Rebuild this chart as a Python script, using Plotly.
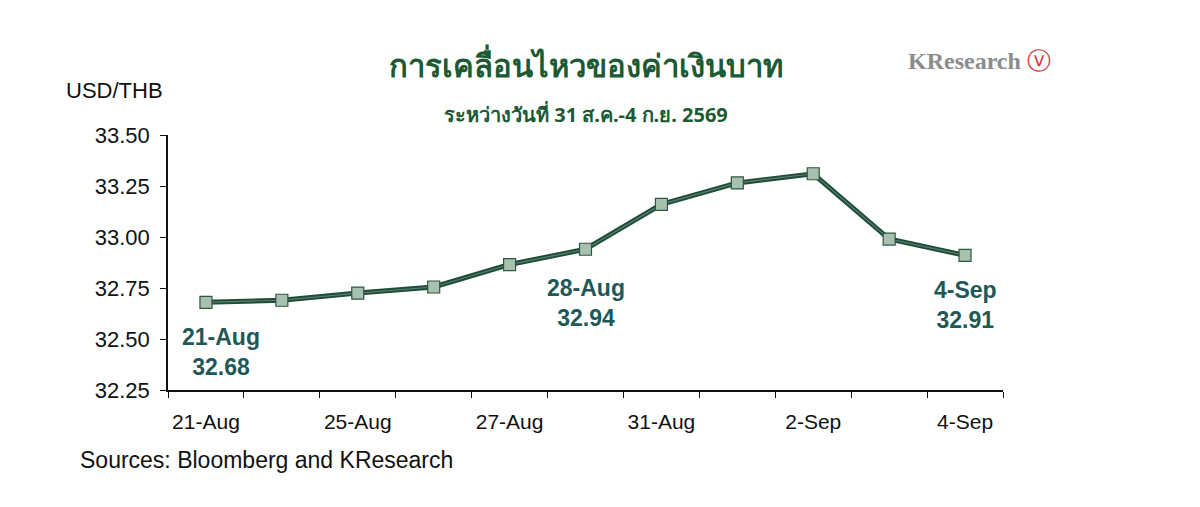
import plotly.graph_objects as go

dates = ["21-Aug", "24-Aug", "25-Aug", "26-Aug", "27-Aug", "28-Aug",
         "31-Aug", "1-Sep", "2-Sep", "3-Sep", "4-Sep"]
rates = [32.68, 32.69, 32.725, 32.755, 32.865, 32.94, 33.16, 33.265, 33.31, 32.99, 32.91]
shown_ticks = ["21-Aug", "25-Aug", "27-Aug", "31-Aug", "2-Sep", "4-Sep"]
y_ticks = [32.25, 32.50, 32.75, 33.00, 33.25, 33.50]

green = "#1d4d3a"
teal = "#1f5858"

fig = go.Figure()
fig.add_trace(go.Scatter(x=dates, y=rates, mode="lines", line=dict(color=green, width=5),
                         hoverinfo="skip"))
fig.add_trace(go.Scatter(x=dates, y=rates, mode="lines+markers",
                         line=dict(color="#5f7d6c", width=1.2),
                         marker=dict(symbol="square", size=12, color="#a8c0ae",
                                     line=dict(color="#2f5544", width=1.2))))

# callouts
for d, v, ax_, ay_ in [("21-Aug", 32.68, 15, 20), ("28-Aug", 32.94, 0, 24), ("4-Sep", 32.91, 0, 20)]:
    fig.add_annotation(x=d, y=v, text=f"<b>{d}<br>{v:.2f}</b>", showarrow=False,
                       xshift=ax_, yshift=-ay_, yanchor="top",
                       font=dict(family="Liberation Sans", size=23, color=teal))

fig.add_annotation(x=0.5, y=1.365, xref="paper", yref="paper", text="<b>การเคลื่อนไหวของค่าเงินบาท</b>",
                   showarrow=False, font=dict(family="Noto Sans", size=31, color="#1b5a33"))
fig.add_annotation(x=0.5, y=1.145, xref="paper", yref="paper",
                   text="<b>ระหว่างวันที่ 31 ส.ค.-4 ก.ย. 2569</b>",
                   showarrow=False, font=dict(family="Noto Sans", size=20, color="#1b5a33"))
fig.add_annotation(x=-0.125, y=1.23, xref="paper", yref="paper", xanchor="left", text="USD/THB",
                   showarrow=False, font=dict(family="Liberation Sans", size=22, color="#111"))
fig.add_annotation(x=-0.108, y=-0.335, xref="paper", yref="paper", xanchor="left",
                   text="Sources: Bloomberg and KResearch",
                   showarrow=False, font=dict(family="Liberation Sans", size=23, color="#111"))
fig.add_annotation(x=1.06, y=1.35, xref="paper", yref="paper", xanchor="right",
                   text="<b>KResearch</b><span style='color:#d23a3a'> ⓥ</span>",
                   showarrow=False, font=dict(family="Liberation Sans Narrow", size=24, color="#8c8c8c"))

fig.update_layout(
    width=1200, height=507, showlegend=False,
    paper_bgcolor="white", plot_bgcolor="white",
    margin=dict(l=160, r=205, t=127, b=125),
    font=dict(family="Liberation Sans", size=22, color="#111"),
)
fig.update_xaxes(type="category", tickvals=dates,
                 ticktext=[d if d in shown_ticks else "" for d in dates],
                 tickangle=0, tickfont=dict(size=21),
                 tickson="boundaries", ticks="outside", ticklen=6, tickcolor="#111",
                 ticklabelstandoff=12,
                 showline=True, linecolor="#111", linewidth=1.5, showgrid=False,
                 range=[-0.5, 10.5])
fig.update_yaxes(range=[32.25, 33.5], tickvals=y_ticks, tickformat=".2f",
                 ticks="outside", ticklen=6, tickcolor="#111", ticklabelstandoff=6,
                 showline=True, linecolor="#111", linewidth=1.5, showgrid=False, zeroline=False)

fig.write_html("out.html")
